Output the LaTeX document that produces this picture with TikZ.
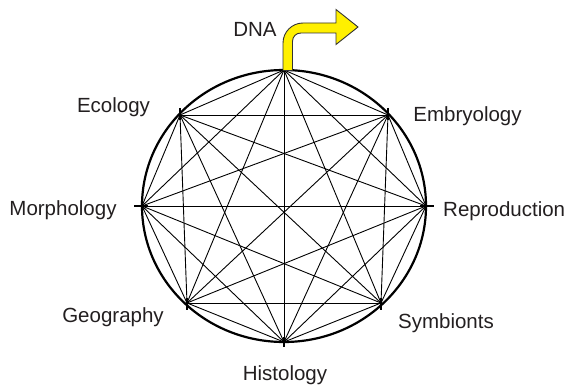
\documentclass[tikz,border=0pt]{standalone}
\usepackage{fontspec}
\setmainfont{Liberation Sans}
\definecolor{arrowyellow}{RGB}{255,240,0}
\definecolor{txt}{RGB}{35,31,32}
\begin{document}
\begin{tikzpicture}[x=1pt,y=-1pt,
  edge/.style={line width=0.9pt, black},
  rim/.style={line width=2.2pt, black},
  tickmark/.style={line width=1.8pt, black},
  lbl/.style={font=\fontsize{20.5}{24}\selectfont, text=txt, inner sep=0pt, anchor=base},
  bigarrow/.style={fill=arrowyellow, draw=black!80, line width=0.9pt, line join=miter},
]
\useasboundingbox (0,0) rectangle (568,385);
\coordinate (p1) at (284,70);
\coordinate (p2) at (388,115);
\coordinate (p3) at (426,206);
\coordinate (p4) at (381,303);
\coordinate (p5) at (284,342);
\coordinate (p6) at (187,303);
\coordinate (p7) at (142,206);
\coordinate (p8) at (180,115);
\coordinate (c) at (284,206);
% rim
\draw[rim] (c) ellipse [x radius=142, y radius=136];
% complete graph
\foreach \i in {1,...,7}{
  \pgfmathtruncatemacro\s{\i+1}
  \foreach \j in {\s,...,8}{\draw[edge] (p\i) -- (p\j);}
}
% ticks
\draw[tickmark] (p2) ++(0,-7) -- ++(0,12);
\draw[tickmark] (p8) ++(0,-7) -- ++(0,12);
\draw[tickmark] (p4) ++(0,-5) -- ++(0,12);
\draw[tickmark] (p6) ++(0,-5) -- ++(0,12);
\draw[tickmark] (p5) ++(0,-5) -- ++(0,10);
\draw[tickmark] (p7) ++(-8,0) -- ++(14,0);
\draw[tickmark] (p3) ++(-6,0) -- ++(14,0);
% DNA arrow
\draw[bigarrow] (283,70.5) -- (283,43)
  .. controls (283,32) and (292,23) .. (303,23)
  -- (336,23) -- (336,9.5) -- (358,27) -- (336,44.5) -- (336,33) -- (301,33)
  .. controls (296,33) and (292.5,36.5) .. (292.5,41.5)
  -- (292.5,70.5) -- cycle;
% labels
\node[lbl] (dna) at (255,37) {DNA};
\node[lbl] (eco) at (113.5,113) {Ecology};
\node[lbl] (emb) at (467.5,122) {Embryology};
\node[lbl] (mor) at (63,215) {Morphology};
\node[lbl, anchor=base west] (rep) at (443,217) {Reproduction};
\node[lbl] (geo) at (113,322) {Geography};
\node[lbl] (sym) at (446,328) {Symbionts};
\node[lbl] (his) at (285,380) {Histology};
\end{tikzpicture}
\end{document}
